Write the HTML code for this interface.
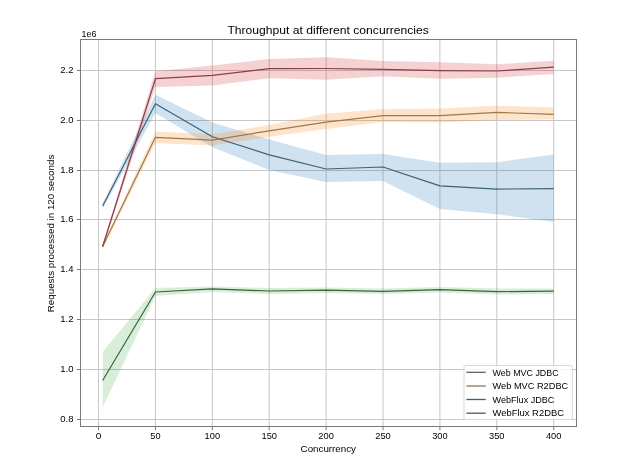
<!DOCTYPE html>
<html><head><meta charset="utf-8"><style>
html,body{margin:0;padding:0;background:#fff;width:640px;height:467px;overflow:hidden}
svg{display:block;filter:blur(0.3px)}
</style></head><body>
<svg width="640" height="467" viewBox="0 0 640 467">
<rect width="640" height="467" fill="#ffffff"/>
<g stroke="#c6c6c6" stroke-width="1"><line x1="98.55" y1="39.5" x2="98.55" y2="426.5"/><line x1="155.44" y1="39.5" x2="155.44" y2="426.5"/><line x1="212.34" y1="39.5" x2="212.34" y2="426.5"/><line x1="269.23" y1="39.5" x2="269.23" y2="426.5"/><line x1="326.13" y1="39.5" x2="326.13" y2="426.5"/><line x1="383.02" y1="39.5" x2="383.02" y2="426.5"/><line x1="439.91" y1="39.5" x2="439.91" y2="426.5"/><line x1="496.81" y1="39.5" x2="496.81" y2="426.5"/><line x1="553.70" y1="39.5" x2="553.70" y2="426.5"/><line x1="80.5" y1="419.50" x2="576.5" y2="419.50"/><line x1="80.5" y1="369.50" x2="576.5" y2="369.50"/><line x1="80.5" y1="319.50" x2="576.5" y2="319.50"/><line x1="80.5" y1="269.50" x2="576.5" y2="269.50"/><line x1="80.5" y1="219.50" x2="576.5" y2="219.50"/><line x1="80.5" y1="170.50" x2="576.5" y2="170.50"/><line x1="80.5" y1="120.50" x2="576.5" y2="120.50"/><line x1="80.5" y1="70.50" x2="576.5" y2="70.50"/></g>
<polygon points="102.65,203.00 155.44,94.70 212.34,122.50 269.23,139.50 326.13,154.90 383.02,154.10 439.91,162.80 496.81,162.20 553.70,154.50 553.70,221.90 496.81,214.20 439.91,209.00 383.02,181.10 326.13,181.90 269.23,170.00 212.34,147.30 155.44,113.00 102.65,209.00" fill="#1f77b4" fill-opacity="0.21"/>
<polygon points="102.65,244.00 155.44,131.40 212.34,134.30 269.23,125.00 326.13,113.50 383.02,109.20 439.91,108.40 496.81,105.70 553.70,107.60 553.70,119.20 496.81,120.10 439.91,122.50 383.02,122.00 326.13,128.90 269.23,136.80 212.34,145.50 155.44,143.00 102.65,249.00" fill="#ff7f0e" fill-opacity="0.21"/>
<polygon points="102.65,352.00 155.44,288.00 212.34,286.60 269.23,288.00 326.13,287.50 383.02,288.50 439.91,287.00 496.81,288.50 553.70,288.50 553.70,294.00 496.81,294.50 439.91,292.50 383.02,294.00 326.13,293.00 269.23,294.00 212.34,292.00 155.44,296.00 102.65,407.50" fill="#2ca02c" fill-opacity="0.18"/>
<polygon points="102.65,244.00 155.44,71.30 212.34,65.40 269.23,59.00 326.13,57.20 383.02,61.00 439.91,62.30 496.81,64.30 553.70,60.80 553.70,73.90 496.81,77.80 439.91,78.70 383.02,76.30 326.13,79.70 269.23,78.30 212.34,85.50 155.44,87.00 102.65,249.00" fill="#d62728" fill-opacity="0.21"/>
<polyline points="102.65,206.00 155.44,103.80 212.34,136.70 269.23,154.90 326.13,169.00 383.02,167.00 439.91,185.90 496.81,189.10 553.70,188.60" fill="none" stroke="#3d6076" stroke-width="1.2" stroke-linejoin="round"/>
<polyline points="102.65,246.50 155.44,137.30 212.34,140.10 269.23,130.80 326.13,122.20 383.02,115.60 439.91,115.60 496.81,112.40 553.70,114.40" fill="none" stroke="#9c7a4c" stroke-width="1.2" stroke-linejoin="round"/>
<polyline points="102.65,380.50 155.44,292.00 212.34,288.90 269.23,291.00 326.13,290.20 383.02,291.30 439.91,289.70 496.81,291.60 553.70,291.20" fill="none" stroke="#3b633f" stroke-width="1.2" stroke-linejoin="round"/>
<polyline points="102.65,246.50 155.44,78.70 212.34,75.40 269.23,68.60 326.13,68.50 383.02,69.40 439.91,70.70 496.81,71.00 553.70,67.20" fill="none" stroke="#843f4f" stroke-width="1.2" stroke-linejoin="round"/>
<rect x="80.5" y="39.5" width="496.00" height="387.00" fill="none" stroke="#7a7a7a" stroke-width="1"/>
<g stroke="#7a7a7a" stroke-width="1"><line x1="98.55" y1="426.5" x2="98.55" y2="430.1"/><line x1="155.44" y1="426.5" x2="155.44" y2="430.1"/><line x1="212.34" y1="426.5" x2="212.34" y2="430.1"/><line x1="269.23" y1="426.5" x2="269.23" y2="430.1"/><line x1="326.13" y1="426.5" x2="326.13" y2="430.1"/><line x1="383.02" y1="426.5" x2="383.02" y2="430.1"/><line x1="439.91" y1="426.5" x2="439.91" y2="430.1"/><line x1="496.81" y1="426.5" x2="496.81" y2="430.1"/><line x1="553.70" y1="426.5" x2="553.70" y2="430.1"/><line x1="76.9" y1="419.50" x2="80.5" y2="419.50"/><line x1="76.9" y1="369.50" x2="80.5" y2="369.50"/><line x1="76.9" y1="319.50" x2="80.5" y2="319.50"/><line x1="76.9" y1="269.50" x2="80.5" y2="269.50"/><line x1="76.9" y1="219.50" x2="80.5" y2="219.50"/><line x1="76.9" y1="170.50" x2="80.5" y2="170.50"/><line x1="76.9" y1="120.50" x2="80.5" y2="120.50"/><line x1="76.9" y1="70.50" x2="80.5" y2="70.50"/></g>
<g font-family="Liberation Sans, sans-serif" fill="#000000" font-size="9.0"><text x="98.55" y="439.4" text-anchor="middle" textLength="5.6" lengthAdjust="spacingAndGlyphs">0</text><text x="155.44" y="439.4" text-anchor="middle" textLength="10.2" lengthAdjust="spacingAndGlyphs">50</text><text x="212.34" y="439.4" text-anchor="middle" textLength="15.5" lengthAdjust="spacingAndGlyphs">100</text><text x="269.23" y="439.4" text-anchor="middle" textLength="15.5" lengthAdjust="spacingAndGlyphs">150</text><text x="326.13" y="439.4" text-anchor="middle" textLength="15.5" lengthAdjust="spacingAndGlyphs">200</text><text x="383.02" y="439.4" text-anchor="middle" textLength="15.5" lengthAdjust="spacingAndGlyphs">250</text><text x="439.91" y="439.4" text-anchor="middle" textLength="15.5" lengthAdjust="spacingAndGlyphs">300</text><text x="496.81" y="439.4" text-anchor="middle" textLength="15.5" lengthAdjust="spacingAndGlyphs">350</text><text x="553.70" y="439.4" text-anchor="middle" textLength="15.5" lengthAdjust="spacingAndGlyphs">400</text></g>
<g font-family="Liberation Sans, sans-serif" fill="#000000" font-size="8.7"><text x="73.5" y="421.95" text-anchor="end" textLength="13.2" lengthAdjust="spacingAndGlyphs">0.8</text><text x="73.5" y="371.95" text-anchor="end" textLength="13.2" lengthAdjust="spacingAndGlyphs">1.0</text><text x="73.5" y="321.95" text-anchor="end" textLength="13.2" lengthAdjust="spacingAndGlyphs">1.2</text><text x="73.5" y="271.95" text-anchor="end" textLength="13.2" lengthAdjust="spacingAndGlyphs">1.4</text><text x="73.5" y="221.95" text-anchor="end" textLength="13.2" lengthAdjust="spacingAndGlyphs">1.6</text><text x="73.5" y="172.95" text-anchor="end" textLength="13.2" lengthAdjust="spacingAndGlyphs">1.8</text><text x="73.5" y="122.95" text-anchor="end" textLength="13.2" lengthAdjust="spacingAndGlyphs">2.0</text><text x="73.5" y="72.95" text-anchor="end" textLength="13.2" lengthAdjust="spacingAndGlyphs">2.2</text></g>
<text x="81.6" y="36.6" font-family="Liberation Sans, sans-serif" fill="#000000" font-size="8.9" textLength="14.8" lengthAdjust="spacingAndGlyphs">1e6</text>
<text x="227.4" y="33.9" font-family="Liberation Sans, sans-serif" fill="#000000" font-size="10.0" textLength="201.4" lengthAdjust="spacingAndGlyphs">Throughput at different concurrencies</text>
<text x="300.6" y="451.6" font-family="Liberation Sans, sans-serif" fill="#000000" font-size="9.1" textLength="55.4" lengthAdjust="spacingAndGlyphs">Concurrency</text>
<text transform="translate(53.8,312.2) rotate(-90)" x="0" y="0" font-family="Liberation Sans, sans-serif" fill="#000000" font-size="9.1" textLength="157.5" lengthAdjust="spacingAndGlyphs">Requests processed in 120 seconds</text>
<rect x="464.0" y="365.5" width="108.3" height="54.0" rx="1.5" fill="#ffffff" fill-opacity="0.8" stroke="#d9d9d9" stroke-width="1"/>
<line x1="466.4" y1="372.30" x2="485.7" y2="372.30" stroke="#56646e" stroke-width="1.3"/>
<text x="492.6" y="376.0" font-family="Liberation Sans, sans-serif" fill="#000000" font-size="8.9" textLength="66.0" lengthAdjust="spacingAndGlyphs">Web MVC JDBC</text>
<line x1="466.4" y1="386.00" x2="485.7" y2="386.00" stroke="#8a7456" stroke-width="1.3"/>
<text x="492.6" y="389.0" font-family="Liberation Sans, sans-serif" fill="#000000" font-size="8.9" textLength="75.6" lengthAdjust="spacingAndGlyphs">Web MVC R2DBC</text>
<line x1="466.4" y1="399.50" x2="485.7" y2="399.50" stroke="#4d5e4d" stroke-width="1.3"/>
<text x="492.6" y="402.9" font-family="Liberation Sans, sans-serif" fill="#000000" font-size="8.9" textLength="61.8" lengthAdjust="spacingAndGlyphs">WebFlux JDBC</text>
<line x1="466.4" y1="413.20" x2="485.7" y2="413.20" stroke="#665058" stroke-width="1.3"/>
<text x="492.6" y="415.7" font-family="Liberation Sans, sans-serif" fill="#000000" font-size="8.9" textLength="71.4" lengthAdjust="spacingAndGlyphs">WebFlux R2DBC</text>
</svg>
</body></html>
